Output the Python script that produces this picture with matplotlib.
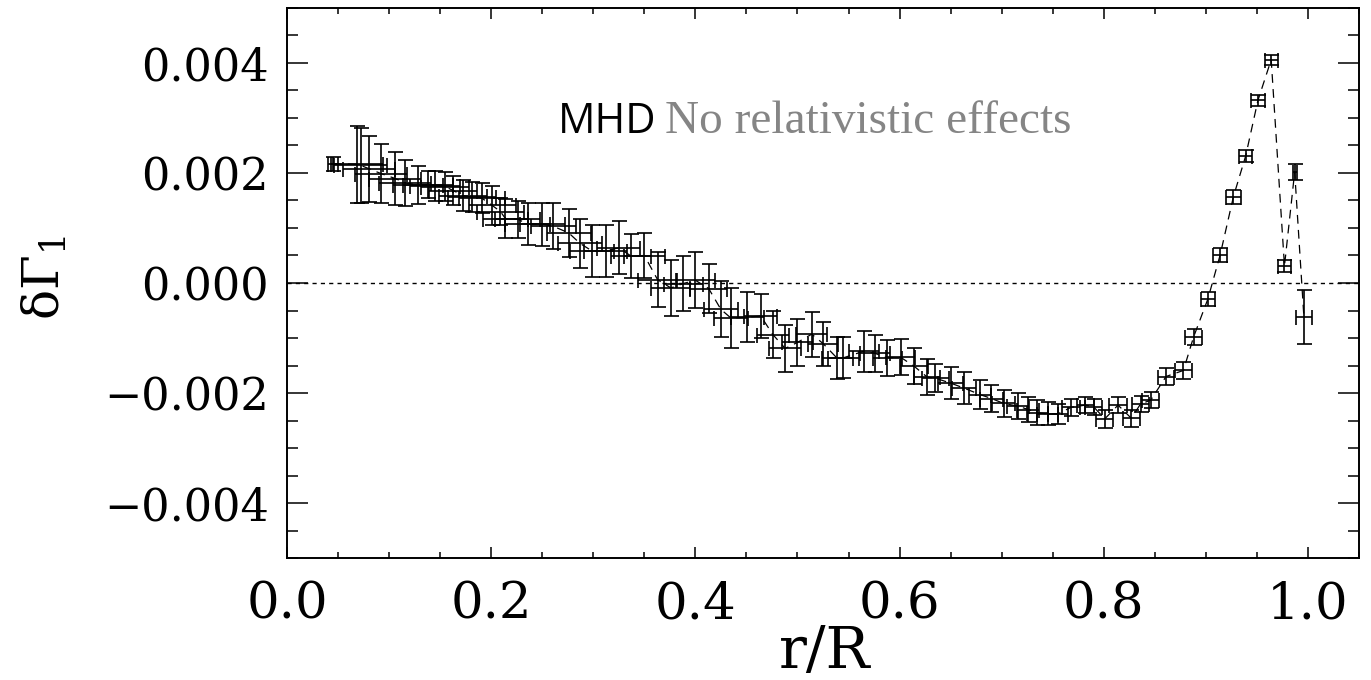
import matplotlib
matplotlib.use('Agg')
import matplotlib.pyplot as plt
from matplotlib.ticker import MultipleLocator

# ---- data ----
r = [0.045, 0.069, 0.072, 0.080, 0.092, 0.106, 0.116, 0.128, 0.138, 0.145,
     0.155, 0.163, 0.172, 0.181, 0.191, 0.201, 0.209, 0.214, 0.226, 0.236,
     0.250, 0.261, 0.276, 0.287, 0.299, 0.312, 0.325, 0.337, 0.350, 0.363,
     0.376, 0.388, 0.400, 0.413, 0.425, 0.435, 0.451, 0.464, 0.476, 0.488,
     0.500, 0.514, 0.525, 0.539, 0.545, 0.565, 0.576, 0.588, 0.601, 0.614,
     0.627, 0.635, 0.650, 0.663, 0.679, 0.690, 0.702, 0.716, 0.726, 0.735,
     0.745, 0.755, 0.768, 0.782, 0.790, 0.801, 0.814, 0.827, 0.836, 0.846,
     0.861, 0.878, 0.888, 0.902, 0.914, 0.927, 0.939, 0.951, 0.964, 0.977,
     0.987, 0.996]
dgamma = [0.00217, 0.00216, 0.00214, 0.00208, 0.00199, 0.00190, 0.00182, 0.00178, 0.00179, 0.00177,
          0.00175, 0.00168, 0.00159, 0.00157, 0.00154, 0.00141, 0.00130, 0.00117, 0.00116, 0.00107,
          0.00107, 0.00103, 0.00091, 0.00072, 0.00058, 0.00058, 0.00064, 0.00049, 0.00050, 0.00006,
          -0.00009, -0.00001, 0.00005, -0.00010, -0.00048, -0.00064, -0.00062, -0.00060, -0.00094, -0.00119,
          -0.00108, -0.00093, -0.00110, -0.00137, -0.00136, -0.00124, -0.00128, -0.00136, -0.00135, -0.00151,
          -0.00171, -0.00173, -0.00182, -0.00191, -0.00203, -0.00210, -0.00219, -0.00224, -0.00230, -0.00236,
          -0.00238, -0.00238, -0.00226, -0.00222, -0.00225, -0.00247, -0.00222, -0.00246, -0.00220, -0.00213,
          -0.00170, -0.00159, -0.00098, -0.00029, 0.00051, 0.00157, 0.00231, 0.00332, 0.00406, 0.00031,
          0.00202, -0.00061]
r_err = [0.005, 0.0255, 0.0255, 0.0255, 0.0255, 0.0255, 0.0255, 0.0245, 0.0245, 0.0245,
         0.0235, 0.0235, 0.0235, 0.0235, 0.023, 0.023, 0.023, 0.022, 0.022, 0.022,
         0.022, 0.022, 0.0215, 0.0215, 0.0215, 0.021, 0.021, 0.020, 0.020, 0.019,
         0.019, 0.019, 0.019, 0.018, 0.017, 0.017, 0.016, 0.016, 0.016, 0.0155,
         0.0155, 0.015, 0.015, 0.015, 0.015, 0.015, 0.0145, 0.0145, 0.014, 0.014,
         0.013, 0.013, 0.012, 0.012, 0.011, 0.011, 0.011, 0.0105, 0.0105, 0.010,
         0.010, 0.0095, 0.0085, 0.0085, 0.0085, 0.0085, 0.0085, 0.0085, 0.0085, 0.0085,
         0.008, 0.008, 0.008, 0.007, 0.007, 0.007, 0.0065, 0.0065, 0.0065, 0.0065,
         0.002, 0.008]
dgamma_err = [0.00013, 0.00070, 0.00068, 0.00060, 0.00053, 0.00049, 0.00042, 0.00035, 0.00025, 0.00027,
              0.00026, 0.00026, 0.00028, 0.00027, 0.00027, 0.00035, 0.00024, 0.00036, 0.00034, 0.00038,
              0.00039, 0.00042, 0.00044, 0.00044, 0.00047, 0.00047, 0.00048, 0.00040, 0.00041, 0.00050,
              0.00051, 0.00050, 0.00051, 0.00044, 0.00051, 0.00055, 0.00046, 0.00040, 0.00043, 0.00043,
              0.00042, 0.00041, 0.00040, 0.00038, 0.00037, 0.00037, 0.00034, 0.00033, 0.00033, 0.00032,
              0.00032, 0.00025, 0.00029, 0.00029, 0.00026, 0.00025, 0.00024, 0.00024, 0.00022, 0.00023,
              0.00021, 0.00018, 0.00015, 0.00015, 0.00015, 0.00016, 0.00015, 0.00016, 0.00015, 0.00015,
              0.00016, 0.00016, 0.00014, 0.00013, 0.00013, 0.00013, 0.00011, 0.00010, 0.00009, 0.00011,
              0.00014, 0.00049]

x_ticks = [0.0, 0.2, 0.4, 0.6, 0.8, 1.0]
x_ticklabels = ['0.0', '0.2', '0.4', '0.6', '0.8', '1.0']
y_ticks = [-0.004, -0.002, 0.0, 0.002, 0.004]
y_ticklabels = ['\u22120.004', '\u22120.002', '0.000', '0.002', '0.004']

label_mhd = 'MHD'
label_note = 'No relativistic effects'

# ---- figure ----
W, H = 1371, 680
fig = plt.figure(figsize=(W / 100, H / 100), dpi=100)
ax = fig.add_axes([287 / W, 1 - 558 / H, (1359 - 287) / W, (558 - 8) / H])

ax.errorbar(r, dgamma, xerr=r_err, yerr=dgamma_err, fmt='none', ecolor='black',
            elinewidth=1.2, capsize=5.4, capthick=1.2, zorder=3)
ax.plot(r, dgamma, color='black', lw=0.9, ls=(0, (7, 5)), zorder=2)
ax.axhline(0, color='black', lw=1.0, ls=(0, (3, 3)), zorder=1)

ax.set_xlim(0, 1.05)
ax.set_ylim(-0.005, 0.005)

ax.set_xticks(x_ticks)
ax.set_xticklabels(x_ticklabels, fontfamily='DejaVu Serif', fontsize=37)
ax.set_yticks(y_ticks)
ax.set_yticklabels(y_ticklabels, fontfamily='DejaVu Serif', fontsize=32)
ax.xaxis.set_minor_locator(MultipleLocator(0.05))
ax.yaxis.set_minor_locator(MultipleLocator(0.0005))

for s in ax.spines.values():
    s.set_linewidth(1.4)

ax.tick_params(axis='both', which='both', direction='in', top=True, right=True, width=1.1)
ax.tick_params(axis='y', which='major', length=15, pad=13)
ax.tick_params(axis='y', which='minor', length=8)
ax.tick_params(axis='x', which='major', length=8, pad=16)
ax.tick_params(axis='x', which='minor', length=4.3)

plt.rcParams['mathtext.fontset'] = 'dejavuserif'
fig.text(45 / W, 1 - 278 / H, '\u03b4\u0393$_1$', rotation=90, ha='center', va='center',
         fontsize=36, family='DejaVu Serif')
fig.text(825 / W, 1 - 652 / H, 'r/R', ha='center', va='center', fontsize=42, family='DejaVu Serif')

fig.text(558 / W, 1 - 133 / H, label_mhd, ha='left', va='baseline', fontsize=30,
         family='Open Sans', color='black')
fig.text(665 / W, 1 - 133 / H, label_note, ha='left', va='baseline', fontsize=34,
         family='Liberation Serif', color='#858585')

fig.savefig('out.png', dpi=100)
